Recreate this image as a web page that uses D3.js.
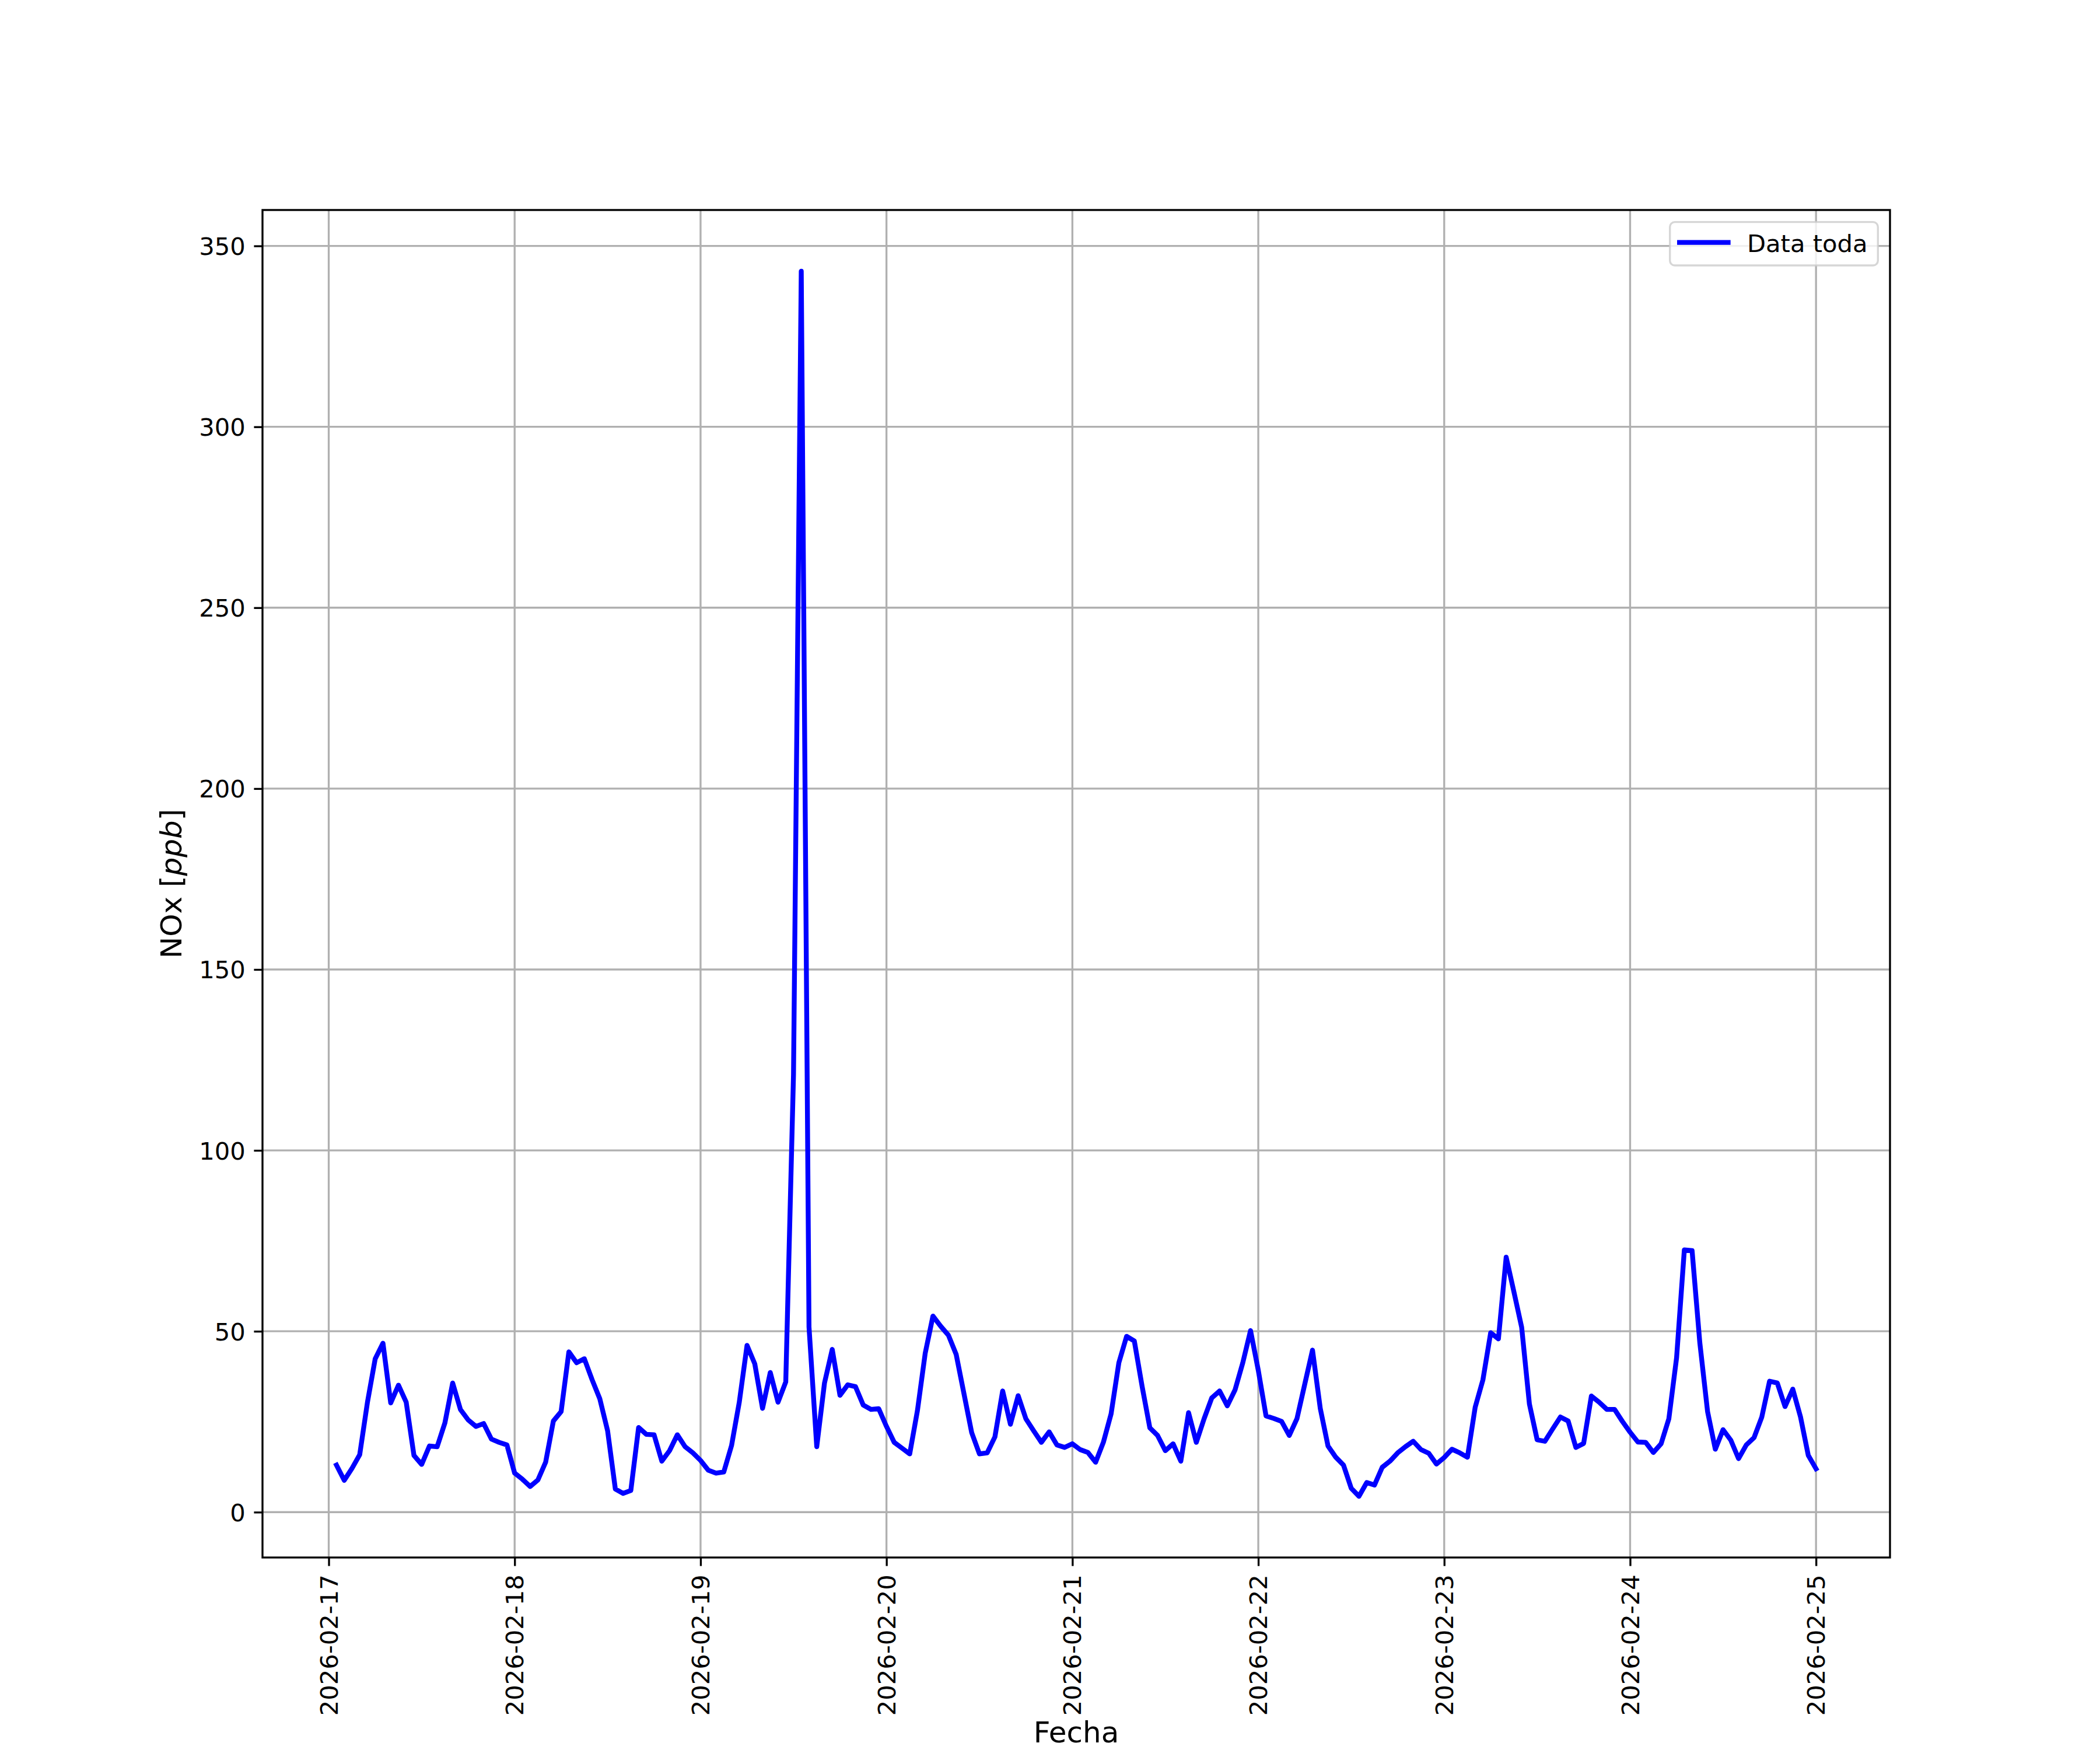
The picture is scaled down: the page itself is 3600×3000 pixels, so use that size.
<!DOCTYPE html>
<html><head><meta charset="utf-8">
<script src="https://cdn.jsdelivr.net/npm/d3@7"></script>
<style>
body{margin:0;background:#fff}
svg{display:block}
text{font-family:"DejaVu Sans",sans-serif}
</style>
</head><body>
<svg id="chart" width="3600" height="3000"></svg>
<script>
// ---------- data (hourly, first reading 2026-02-17 01:00) ----------
const startTime = "2026-02-17T01:00:00Z";
const day17 = [13.0, 8.8, 12.1, 15.9, 30.4, 42.4, 46.7, 30.2, 35.1, 30.4, 15.7, 13.2, 18.3, 18.1, 24.7, 35.7, 28.4, 25.5, 23.7, 24.5, 20.2, 19.3, 18.6, 10.8];
const day18 = [9.1, 7.1, 8.9, 13.8, 25.2, 27.8, 44.3, 41.3, 42.4, 36.6, 31.3, 22.5, 6.4, 5.2, 6.0, 23.4, 21.5, 21.4, 14.1, 17.0, 21.4, 18.1, 16.4, 14.3];
const day19 = [11.6, 10.8, 11.1, 18.4, 30.4, 46.1, 41.0, 28.7, 38.6, 30.4, 36.0, 121.0, 343.0, 51.2, 18.1, 35.7, 45.0, 32.3, 35.2, 34.7, 29.6, 28.4, 28.6, 23.7];
const day20 = [19.3, 17.7, 16.1, 28.1, 43.9, 54.2, 51.4, 48.9, 43.6, 32.8, 22.0, 16.1, 16.4, 20.8, 33.5, 24.3, 32.2, 25.8, 22.5, 19.3, 22.2, 18.6, 17.9, 18.9];
const day21 = [17.3, 16.5, 13.8, 19.3, 27.2, 41.3, 48.6, 47.3, 34.8, 23.3, 21.2, 17.0, 18.9, 14.1, 27.5, 19.3, 25.8, 31.6, 33.5, 29.4, 33.8, 41.3, 50.2, 39.2];
const day22 = [26.6, 25.9, 25.1, 21.2, 25.9, 35.4, 44.8, 28.7, 18.3, 15.2, 13.0, 6.6, 4.4, 8.2, 7.5, 12.4, 14.1, 16.4, 18.1, 19.6, 17.3, 16.3, 13.3, 15.1];
const day23 = [17.4, 16.4, 15.2, 29.0, 36.6, 49.6, 47.9, 70.5, 60.9, 51.1, 29.9, 20.0, 19.6, 23.0, 26.3, 25.2, 17.9, 19.0, 32.1, 30.4, 28.4, 28.4, 25.1, 22.1];
const day24 = [19.4, 19.3, 16.5, 18.9, 25.8, 42.7, 72.5, 72.3, 46.8, 27.8, 17.4, 22.8, 19.9, 14.8, 18.6, 20.6, 26.3, 36.2, 35.7, 29.2, 34.0, 26.3, 15.7, 12.0];
const xTickLabels = ["2026-02-17","2026-02-18","2026-02-19","2026-02-20","2026-02-21","2026-02-22","2026-02-23","2026-02-24","2026-02-25"];
const yTickValues = [0, 50, 100, 150, 200, 250, 300, 350];
const seriesName = "Data toda";
const xLabelText = "Fecha";
const yLabelText = "NOx ";
const yLabelUnit = "ppb";

// ---------- build series ----------
const values = [].concat(day17, day18, day19, day20, day21, day22, day23, day24);
const t0 = new Date(startTime);
const series = values.map((v, i) => ({t: d3.utcHour.offset(t0, i), v}));

// ---------- layout ----------
const W = 3600, H = 3000;
const L = 450, R = 3240, T = 360, B = 2670;
const pt = 300 / 72;
const fsTick = 10 * pt, fsLabel = 12 * pt;
const tickLen = 3.5 * pt, tickPad = 3.5 * pt, thin = 0.8 * pt;

const svg = d3.select("#chart");

const tExt = d3.extent(series, d => d.t);
const tSpan = tExt[1] - tExt[0];
const x = d3.scaleUtc()
  .domain([new Date(+tExt[0] - 0.05 * tSpan), new Date(+tExt[1] + 0.05 * tSpan)])
  .range([L, R]);
const vExt = d3.extent(series, d => d.v);
const vSpan = vExt[1] - vExt[0];
const y = d3.scaleLinear()
  .domain([vExt[0] - 0.05 * vSpan, vExt[1] + 0.05 * vSpan])
  .range([B, T]);

const parseDay = d3.utcParse("%Y-%m-%d");
const xTicks = xTickLabels.map(parseDay);

// grid
const grid = svg.append("g");
grid.selectAll("line.gx").data(xTicks).join("line")
  .attr("x1", d => x(d)).attr("x2", d => x(d))
  .attr("y1", T).attr("y2", B)
  .attr("stroke", "#b0b0b0").attr("stroke-width", thin);
grid.selectAll("line.gy").data(yTickValues).join("line")
  .attr("x1", L).attr("x2", R)
  .attr("y1", d => y(d)).attr("y2", d => y(d))
  .attr("stroke", "#b0b0b0").attr("stroke-width", thin);

// data line
const line = d3.line().x(d => x(d.t)).y(d => y(d.v));
svg.append("path").datum(series)
  .attr("d", line)
  .attr("fill", "none")
  .attr("stroke", "#0000ff")
  .attr("stroke-width", 2 * pt)
  .attr("stroke-linejoin", "round")
  .attr("stroke-linecap", "square");

// axes
const xAxis = d3.axisBottom(x).tickValues(xTicks)
  .tickFormat(d3.utcFormat("%Y-%m-%d"))
  .tickSize(tickLen).tickPadding(tickPad);
const gx = svg.append("g").attr("transform", `translate(0,${B})`).call(xAxis);
gx.select(".domain").remove();
gx.selectAll(".tick line").attr("stroke", "#000").attr("stroke-width", thin);
gx.selectAll(".tick text")
  .attr("font-size", fsTick)
  .attr("fill", "#000")
  .attr("font-family", "DejaVu Sans")
  .attr("transform", "rotate(-90)")
  .attr("text-anchor", "end")
  .attr("x", -(tickLen + tickPad))
  .attr("y", 0)
  .attr("dy", "0.35em");

const yAxis = d3.axisLeft(y).tickValues(yTickValues)
  .tickFormat(d3.format("d"))
  .tickSize(tickLen).tickPadding(tickPad);
const gy = svg.append("g").attr("transform", `translate(${L},0)`).call(yAxis);
gy.select(".domain").remove();
gy.selectAll(".tick line").attr("stroke", "#000").attr("stroke-width", thin);
gy.selectAll(".tick text")
  .attr("font-size", fsTick)
  .attr("fill", "#000")
  .attr("font-family", "DejaVu Sans")
  .attr("dy", "0.36em");

// frame (spines)
svg.append("rect")
  .attr("x", L).attr("y", T).attr("width", R - L).attr("height", B - T)
  .attr("fill", "none").attr("stroke", "#000").attr("stroke-width", thin);

// axis labels
svg.append("text")
  .attr("x", (L + R) / 2).attr("y", 2987)
  .attr("text-anchor", "middle")
  .attr("font-size", fsLabel)
  .text(xLabelText);

const yl = svg.append("text")
  .attr("transform", `translate(311,${(T + B) / 2}) rotate(-90)`)
  .attr("text-anchor", "middle")
  .attr("font-size", fsLabel);
yl.append("tspan").text(yLabelText + "[");
yl.append("tspan").attr("font-style", "italic").text(yLabelUnit);
yl.append("tspan").text("]");

// legend
const lg = svg.append("g");
lg.append("rect")
  .attr("x", 2862.7).attr("y", 380.7).attr("width", 356.6).attr("height", 74.3)
  .attr("rx", 8.3).attr("ry", 8.3)
  .attr("fill", "#fff").attr("fill-opacity", 0.8)
  .attr("stroke", "#cccccc").attr("stroke-opacity", 0.8).attr("stroke-width", thin);
lg.append("line")
  .attr("x1", 2879.2).attr("x2", 2962.5).attr("y1", 415.7).attr("y2", 415.7)
  .attr("stroke", "#0000ff").attr("stroke-width", 2 * pt).attr("stroke-linecap", "square");
lg.append("text")
  .attr("x", 2995).attr("y", 431.7)
  .attr("font-size", fsTick)
  .text(seriesName);
</script>
</body></html>
